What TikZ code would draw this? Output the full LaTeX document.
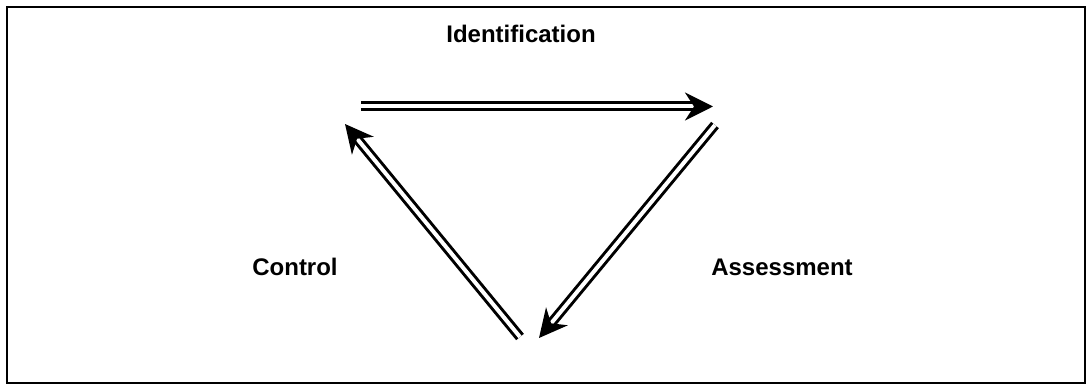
\documentclass[tikz,border=0pt]{standalone}
\usepackage{fontspec}
\setmainfont{Liberation Sans}
\usetikzlibrary{arrows.meta}
\begin{document}
\begin{tikzpicture}[x=1pt,y=-1pt,
  flow/.style={double=white, double distance=4pt, line width=3pt,
    -{Stealth[length=28pt,width=28pt,inset=9pt]}},
  lbl/.style={font=\bfseries\fontsize{24}{28}\selectfont, inner sep=0pt},
  frame/.style={line width=2.5pt}]
\useasboundingbox (0,0) rectangle (1088,387);
% outer frame
\draw[frame] (7,7) rectangle (1085,383);
% corners of the cycle
\coordinate (a1) at (361,106.5);
\coordinate (a2) at (713,106.5);
\coordinate (b1) at (715,125);
\coordinate (b2) at (539,338);
\coordinate (c1) at (520,337);
\coordinate (c2) at (345,124);
% cycle arrows
\draw[flow] (a1) -- (a2);
\draw[flow] (b1) -- (b2);
\draw[flow] (c1) -- (c2);
% labels
\node[lbl] (ident) at (521,34) {Identification};
\node[lbl] (assess) at (782,267) {Assessment};
\node[lbl] (ctrl) at (295,267) {Control};
\end{tikzpicture}
\end{document}
